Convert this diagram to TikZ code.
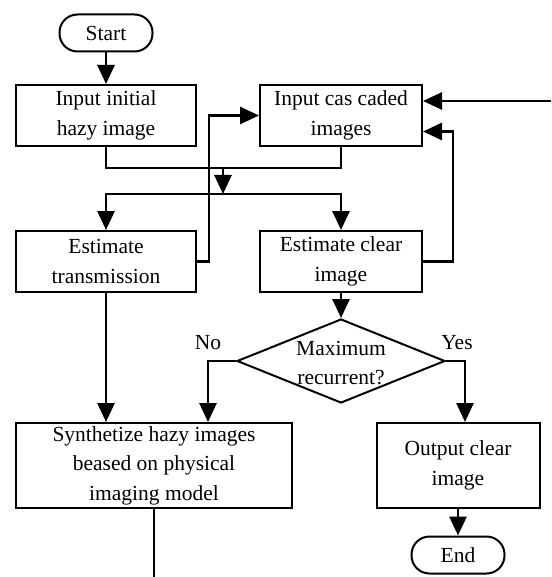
\documentclass[tikz,border=0pt]{standalone}
\usepackage{fontspec}
\setmainfont{Liberation Serif}
\usetikzlibrary{arrows.meta,shapes.geometric,calc}

\tikzset{
  box/.style={draw, line width=2pt, align=center, inner sep=0pt,
    font=\fontsize{21.5}{29.5}\selectfont},
  term/.style={box, rounded corners=18pt, minimum width=93pt, minimum height=37pt},
  dec/.style={draw, diamond, line width=2pt, inner sep=0pt,
    minimum width=208pt, minimum height=84pt},
  txt/.style={align=center, inner sep=0pt, font=\fontsize{21.5}{29.5}\selectfont},
  line/.style={line width=2.8pt},
  arr/.style={line, -{Triangle[length=19pt,width=17pt]}}
}

\begin{document}
\begin{tikzpicture}[x=1pt,y=-1pt]
  \useasboundingbox (0,0) rectangle (551,577);

  % blocks
  \node[term] (start) at (106,33) {Start};
  \node[box, minimum width=180pt, minimum height=61pt] (init) at (106,115.5) {Input initial\\hazy image};
  \node[box, minimum width=162pt, minimum height=61pt] (casc) at (341,115.5) {Input cas caded\\images};
  \node[box, minimum width=180pt, minimum height=61pt] (trans) at (106,261.5) {Estimate\\transmission};
  \node[box, minimum width=162pt, minimum height=61pt] (clear) at (341,261.5) {Estimate clear\\image};
  \node[dec] (maxrec) at (341,361) {};
  \node[txt] (maxrectext) at (341,363) {Maximum\\recurrent?};
  \node[box, minimum width=276pt, minimum height=85pt] (synth) at (154,465.5) {Synthetize hazy images\\beased on physical\\imaging model};
  \node[box, minimum width=163pt, minimum height=85pt] (out) at (458,465.5) {Output clear\\image};
  \node[term] (end) at (458,555) {End};
  \node[txt] (lblno) at (208,343) {No};
  \node[txt] (lblyes) at (457,343) {Yes};

  \coordinate (merge) at (223,168);
  \coordinate (split) at (223,194);
  \coordinate (fbin) at (551,101);

  % connectors
  \draw[arr] (start) -- (init);
  \draw[line] (init.south) |- (merge) -| (casc.south);
  \draw[arr] (merge) -- (split);
  \draw[arr] (split) -| (trans.north);
  \draw[arr] (split) -| (clear.north);
  \draw[arr] (trans.east) -- ++(12,0) |- (casc.west);
  \draw[arr] (clear.east) -- ++(30,0) |- ($(casc.east)+(0,16)$);
  \draw[arr] (fbin) -- (casc.east |- fbin);
  \draw[arr] (clear.south) -- (maxrec.north);
  \draw[arr] (maxrec.west) -| ($(synth.north)+(54,0)$);
  \draw[arr] (trans.south) -- (trans.south |- synth.north);
  \draw[arr] (maxrec.east) -| ($(out.north)+(7,0)$);
  \draw[arr] (out.south) -- (end.north);
  \draw[line] (synth.south) -- ++(0,69);
\end{tikzpicture}
\end{document}
